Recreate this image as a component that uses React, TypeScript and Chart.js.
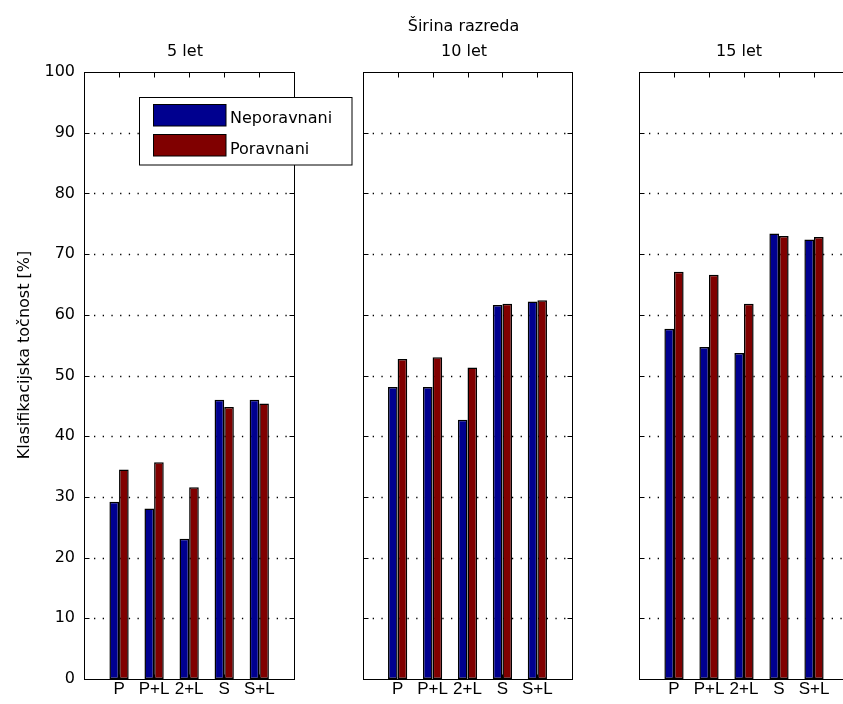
import React, { useEffect, useRef } from 'react';
import { Chart, registerables } from 'chart.js';

Chart.register(...registerables);

// ---- data ----
const categories = ['P', 'P+L', '2+L', 'S', 'S+L'];
const seriesNames = ['Neporavnani', 'Poravnani'];
const panelTitles = ['5 let', '10 let', '15 let'];
const supTitle = 'Širina razreda';
const yAxisLabel = 'Klasifikacijska točnost [%]';
const yTicks = [0, 10, 20, 30, 40, 50, 60, 70, 80, 90, 100];

const neporavnani5 = [29.2, 28.1, 23.1, 46.0, 46.0];
const poravnani5 = [34.5, 35.7, 31.6, 44.8, 45.4];
const neporavnani10 = [48.1, 48.1, 42.7, 61.6, 62.2];
const poravnani10 = [52.7, 53.0, 51.3, 61.8, 62.4];
const neporavnani15 = [57.7, 54.7, 53.7, 73.4, 72.4];
const poravnani15 = [67.1, 66.6, 61.8, 73.0, 72.8];

// ---- styling / layout ----
const BLUE = '#00008f';
const RED = '#800000';
const FONT = 'DejaVu Sans';
const TICK_FONT = 'Liberation Sans';
const FONT_SIZE = 16;
const CANVAS_W = 870;
const CANVAS_H = 704;
const PLOT_TOP = 72;
const PLOT_BOTTOM = 679;
const TICK_LEN = 5;

const panels = [
  { left: 84, right: 294.3, titleX: 185, nep: neporavnani5, por: poravnani5 },
  { left: 362.7, right: 572.3, titleX: 464, nep: neporavnani10, por: poravnani10 },
  { left: 639, right: 849, titleX: 739, nep: neporavnani15, por: poravnani15 },
];

// empty slots at both ends give the 0..6 x-range around the five groups
const xLabels = ['', ...categories, ''];
const padSeries = (vals: number[]) => [null, ...vals, null];

const crisp = (v: number) => Math.round(v) + 0.5;

function panelPlugin(idx: number) {
  return {
    id: 'panelDecor' + idx,
    beforeDatasetsDraw(chart: any) {
      const { ctx, chartArea: a, scales } = chart;
      const y = scales.y;
      ctx.save();
      ctx.strokeStyle = '#000';
      ctx.lineWidth = 1.3;
      ctx.setLineDash([1.3, 7.4]);
      for (const v of yTicks) {
        if (v <= yTicks[0] || v >= yTicks[yTicks.length - 1]) continue;
        const py = crisp(y.getPixelForValue(v));
        ctx.beginPath();
        ctx.moveTo(a.left + 10, py);
        ctx.lineTo(a.right, py);
        ctx.stroke();
      }
      ctx.restore();
    },
    afterDatasetsDraw(chart: any) {
      const { ctx, chartArea: a, scales } = chart;
      const x = scales.x;
      const y = scales.y;
      ctx.save();
      ctx.strokeStyle = '#000';
      ctx.lineWidth = 1;
      const l = crisp(a.left), r = crisp(a.right), t = crisp(a.top), b = crisp(a.bottom);
      ctx.strokeRect(l, t, r - l, b - t);
      ctx.beginPath();
      for (let i = 1; i <= categories.length; i++) {
        const px = crisp(x.getPixelForValue(i));
        ctx.moveTo(px, t);
        ctx.lineTo(px, t + TICK_LEN);
        ctx.moveTo(px, b);
        ctx.lineTo(px, b - TICK_LEN);
      }
      for (const v of yTicks) {
        const py = crisp(y.getPixelForValue(v));
        ctx.moveTo(l, py);
        ctx.lineTo(l + TICK_LEN, py);
        ctx.moveTo(r, py);
        ctx.lineTo(r - TICK_LEN, py);
      }
      ctx.stroke();
      ctx.restore();
    },
    afterDraw(chart: any) {
      const { ctx } = chart;
      const p = panels[idx];
      ctx.save();
      ctx.fillStyle = '#000';
      ctx.font = `${FONT_SIZE}px "${FONT}"`;
      ctx.textAlign = 'center';
      ctx.textBaseline = 'alphabetic';
      ctx.fillText(panelTitles[idx], p.titleX, 56);
      if (idx === 1) ctx.fillText(supTitle, 463.5, 31);

      if (idx === 0) {
        // y-axis label
        ctx.save();
        ctx.translate(28.5, 355);
        ctx.rotate(-Math.PI / 2);
        ctx.fillText(yAxisLabel, 0, 0);
        ctx.restore();

        // legend
        const box = { x: 139.5, y: 97.5, w: 212.5, h: 67.5 };
        ctx.fillStyle = '#fff';
        ctx.fillRect(box.x, box.y, box.w, box.h);
        ctx.strokeStyle = '#000';
        ctx.lineWidth = 1;
        ctx.strokeRect(box.x, box.y, box.w, box.h);
        const rows = [
          { top: 104.5, h: 21.5, base: 123 },
          { top: 134.5, h: 21.5, base: 154 },
        ];
        chart.data.datasets.forEach((ds: any, i: number) => {
          const row = rows[i];
          ctx.fillStyle = ds.backgroundColor;
          ctx.fillRect(153.5, row.top, 72.5, row.h);
          ctx.strokeRect(153.5, row.top, 72.5, row.h);
          ctx.fillStyle = '#000';
          ctx.textAlign = 'left';
          ctx.fillText(ds.label, 230, row.base);
        });
      }
      ctx.restore();
    },
  };
}

function Panel({ idx }: { idx: number }) {
  const ref = useRef<HTMLCanvasElement>(null);
  useEffect(() => {
    if (!ref.current) return;
    const p = panels[idx];
    const yWidth = idx === 0 ? p.left : 10;
    const chart = new Chart(ref.current, {
      type: 'bar',
      data: {
        labels: xLabels,
        datasets: [
          {
            label: seriesNames[0],
            data: padSeries(p.nep),
            backgroundColor: BLUE,
            borderColor: '#000',
            borderWidth: 1.5,
            borderSkipped: false,
          },
          {
            label: seriesNames[1],
            data: padSeries(p.por),
            backgroundColor: RED,
            borderColor: '#000',
            borderWidth: 1.5,
            borderSkipped: false,
          },
        ],
      } as any,
      options: {
        responsive: false,
        animation: false,
        devicePixelRatio: 1,
        events: [],
        datasets: {
          bar: { categoryPercentage: 0.55, barPercentage: 1 },
        },
        layout: {
          padding: {
            left: p.left - yWidth,
            right: CANVAS_W - p.right,
            top: PLOT_TOP,
            bottom: 0,
          },
        },
        plugins: {
          legend: { display: false },
          title: { display: false },
          tooltip: { enabled: false },
        },
        scales: {
          x: {
            type: 'category',
            offset: false,
            grid: { display: false, drawTicks: false },
            border: { display: false },
            ticks: {
              color: '#000',
              font: { family: TICK_FONT, size: 17 },
              padding: 0,
              maxRotation: 0,
              autoSkip: false,
            },
            afterFit: (s: any) => {
              s.height = CANVAS_H - PLOT_BOTTOM;
            },
          },
          y: {
            min: yTicks[0],
            max: yTicks[yTicks.length - 1],
            grid: { display: false, drawTicks: false },
            border: { display: false },
            ticks: {
              display: idx === 0,
              stepSize: 10,
              color: '#000',
              font: { family: FONT, size: FONT_SIZE },
              padding: 9,
            },
            afterFit: (s: any) => {
              s.width = yWidth;
            },
          },
        },
      } as any,
      plugins: [panelPlugin(idx)],
    });
    return () => chart.destroy();
  }, [idx]);
  return (
    <canvas
      ref={ref}
      width={CANVAS_W}
      height={CANVAS_H}
      style={{ position: 'absolute', left: 0, top: 0, width: CANVAS_W, height: CANVAS_H }}
    />
  );
}

export default function App() {
  return (
    <div
      style={{
        position: 'fixed',
        left: 0,
        top: 0,
        width: 843,
        height: 704,
        overflow: 'hidden',
        background: '#fff',
      }}
    >
      {panels.map((_, i) => (
        <Panel key={i} idx={i} />
      ))}
    </div>
  );
}
